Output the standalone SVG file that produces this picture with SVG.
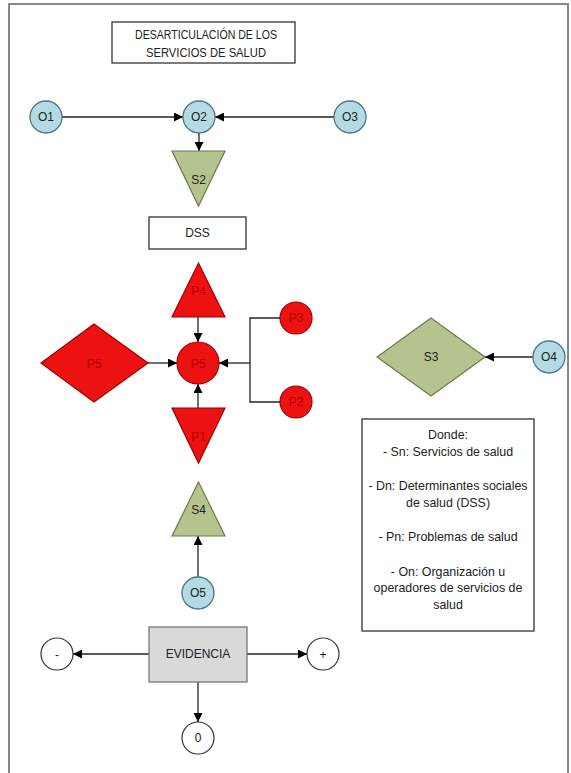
<svg xmlns="http://www.w3.org/2000/svg" width="571" height="773" viewBox="0 0 571 773">
<defs>
<marker id="arr" viewBox="0 0 10 10" refX="10" refY="5" markerWidth="9" markerHeight="9" markerUnits="userSpaceOnUse" orient="auto">
<path d="M0,0 L10,5 L0,10 z" fill="#000"/>
</marker>
<style>
text{font-family:"Liberation Sans",Arial,sans-serif;font-size:12px;text-anchor:middle;dominant-baseline:central;fill:#222}
.o{fill:#b4dbe4;stroke:#4d7585;stroke-width:1.3}
.s{fill:#b5c48e;stroke:#6b7a48;stroke-width:1.2}
.p{fill:#ee1111;stroke:#a00000;stroke-width:1.2}
.pt{fill:#b00000}
.box{fill:#fff;stroke:#333;stroke-width:1.3}
.w{fill:#fff;stroke:#333;stroke-width:1.2}
.c line,.c path{stroke:#222;stroke-width:1.3;fill:none}
.a{marker-end:url(#arr)}
.lg{font-size:12.4px}
</style>
</defs>
<rect x="0" y="0" width="571" height="773" fill="#fff"/>
<rect x="9" y="4" width="559" height="780" fill="none" stroke="#888" stroke-width="2"/>

<g id="title">
<rect class="box" x="112" y="22" width="183" height="41"/>
<text x="206" y="35" font-size="12" textLength="142" lengthAdjust="spacingAndGlyphs">DESARTICULACIÓN DE LOS</text>
<text x="206" y="53" font-size="12" textLength="120" lengthAdjust="spacingAndGlyphs">SERVICIOS DE SALUD</text>
</g>

<g class="c" id="connectors">
<line class="a" x1="62" y1="117" x2="183" y2="117"/>
<line class="a" x1="334" y1="117" x2="215" y2="117"/>
<line class="a" x1="199" y1="133" x2="199" y2="151"/>
<line class="a" x1="198" y1="317" x2="198" y2="342"/>
<line class="a" x1="148" y1="363" x2="177" y2="363"/>
<line class="a" x1="198" y1="408" x2="198" y2="384"/>
<path d="M280,318 H250 V402 H280"/>
<line class="a" x1="250" y1="363" x2="219" y2="363"/>
<line class="a" x1="533" y1="357" x2="485" y2="357"/>
<line class="a" x1="198" y1="577" x2="198" y2="536"/>
<line class="a" x1="149" y1="654" x2="73" y2="654"/>
<line class="a" x1="247" y1="654" x2="307" y2="654"/>
<line class="a" x1="198" y1="682" x2="198" y2="722"/>
</g>

<g id="O1"><circle class="o" cx="46" cy="117" r="16"/><text x="46" y="117">O1</text></g>
<g id="O2"><circle class="o" cx="199" cy="117" r="16"/><text x="199" y="117">O2</text></g>
<g id="O3"><circle class="o" cx="350" cy="117" r="16"/><text x="350" y="117">O3</text></g>
<g id="S2"><polygon class="s" points="172,151 225,151 198.5,206"/><text x="198.5" y="180">S2</text></g>
<g id="DSS"><rect class="box" x="149" y="217" width="97" height="32"/><text x="197.5" y="233">DSS</text></g>

<g id="P4"><polygon class="p" points="198.5,263 225,317 172,317"/><text class="pt" x="198.5" y="291">P4</text></g>
<g id="P5c"><circle class="p" cx="198" cy="363" r="21"/><text class="pt" x="198" y="364">P5</text></g>
<g id="P5d"><polygon class="p" points="41,363 94,324 148,363 94,402"/><text class="pt" x="94" y="364">P5</text></g>
<g id="P1"><polygon class="p" points="172,408 225,408 198.5,463"/><text class="pt" x="198.5" y="437">P1</text></g>
<g id="P3"><circle class="p" cx="296" cy="318" r="16"/><text class="pt" x="296" y="318">P3</text></g>
<g id="P2"><circle class="p" cx="296" cy="402" r="16"/><text class="pt" x="296" y="402">P2</text></g>

<g id="S3"><polygon class="s" points="377,357 431,318 485,357 431,396"/><text x="431" y="357">S3</text></g>
<g id="O4"><circle class="o" cx="549" cy="357" r="16"/><text x="549" y="357">O4</text></g>

<g id="legend">
<rect class="box" x="362" y="419" width="172" height="212"/>
<text class="lg" x="448" y="435">Donde:</text>
<text class="lg" x="448" y="452">- Sn: Servicios de salud</text>
<text class="lg" x="448" y="486">- Dn: Determinantes sociales</text>
<text class="lg" x="448" y="503">de salud (DSS)</text>
<text class="lg" x="448" y="537">- Pn: Problemas de salud</text>
<text class="lg" x="448" y="572">- On: Organización u</text>
<text class="lg" x="448" y="588">operadores de servicios de</text>
<text class="lg" x="448" y="605">salud</text>
</g>

<g id="S4"><polygon class="s" points="198.5,482 225,536 172,536"/><text x="198.5" y="510">S4</text></g>
<g id="O5"><circle class="o" cx="198" cy="593" r="16"/><text x="198" y="593">O5</text></g>

<g id="EVIDENCIA"><rect x="149" y="627" width="98" height="55" fill="#d9d9d9" stroke="#777" stroke-width="1.3"/><text x="198" y="654">EVIDENCIA</text></g>
<g id="minus"><circle class="w" cx="57" cy="654" r="16"/><text x="57" y="655" font-size="10">-</text></g>
<g id="plus"><circle class="w" cx="323" cy="654" r="16"/><text x="323" y="655" font-size="10">+</text></g>
<g id="zero"><circle class="w" cx="198" cy="738" r="16"/><text x="198" y="738">0</text></g>
</svg>
